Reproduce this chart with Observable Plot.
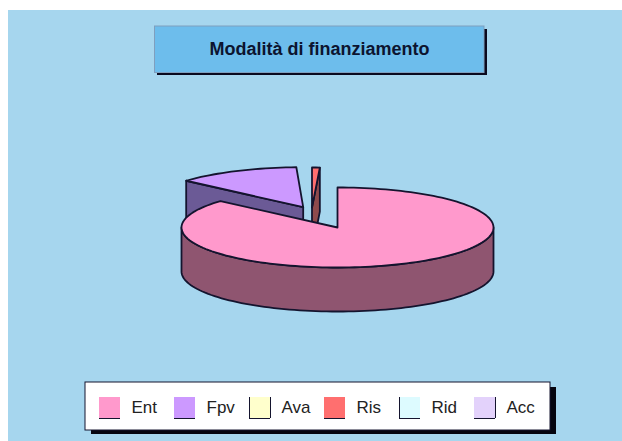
<!DOCTYPE html>
<html>
<head>
<meta charset="utf-8">
<script src="https://cdn.jsdelivr.net/npm/d3@7"></script>
<script src="https://cdn.jsdelivr.net/npm/@observablehq/plot@0.6"></script>
<style>html,body{margin:0;padding:0;background:#fff}svg{display:block}</style>
</head>
<body>
<div id="chart"></div>
<script>
const titleText = "Modalità di finanziamento";
const categories = ["Ent", "Fpv", "Ava", "Ris", "Rid", "Acc"];
const shares = [86.5, 12.8, 0, 0.8, 0, 0];
const topColors = ["#ff99cc", "#cc99ff", "#ffffcc", "#ff6f6f", "#ddfbff", "#e3d2fb"];
const wallColors = ["#8f5570", "#6b5a96", "#8f8f70", "#8f4a4c", "#708f8f", "#7a6f90"];
const explodeX = [0, -34.3, 0, -25.5, 0, 0];
const explodeY = [0, -20.3, 0, -20, 0, 0];
const angleTurn = [0, 0, 0, 2.52, 0, 0];

const cx = 337, cy = 227, rx = 156, ry = 40, depth = 44;
const ink = "#14142e";
const rad = Math.PI / 180;

const starts = shares.map((_, i) => (d3.sum(shares.slice(0, i)) * 3.6 + angleTurn[i]) % 360);
const slices = categories.map((name, i) => ({
  name, i, a0: starts[i], a1: starts[i] + shares[i] * 3.6,
  tx: cx + explodeX[i], ty: cy + explodeY[i]
})).filter(d => d.a1 > d.a0);

const rim = (s, deg, drop = 0) => ({
  x: s.tx + rx * Math.sin(deg * rad),
  y: s.ty - ry * Math.cos(deg * rad) + drop
});
const arc = (s, a, b, drop = 0) => {
  const n = Math.max(2, Math.ceil(Math.abs(b - a) / 2));
  return d3.range(n + 1).map(k => rim(s, a + (b - a) * k / n, drop));
};
const poly = (pts, fill, sw = 1.8) => Plot.line([...pts, pts[0]], {
  x: "x", y: "y", fill, stroke: ink, strokeWidth: sw, strokeLinejoin: "round"
});
const tip = (s, drop = 0) => ({x: s.tx, y: s.ty + drop});

function sliceMarks(s) {
  const marks = [];
  const wall = wallColors[s.i], top = topColors[s.i];
  const f0 = Math.max(s.a0, 90), f1 = Math.min(s.a1, 270);
  if (f1 > f0) marks.push(poly([...arc(s, f0, f1), ...arc(s, f1, f0, depth)], wall));
  if (s.a0 > 180) marks.push(poly([tip(s), rim(s, s.a0), rim(s, s.a0, depth), tip(s, depth)], wall));
  if (s.a1 < 180) marks.push(poly([tip(s), rim(s, s.a1), rim(s, s.a1, depth), tip(s, depth)], wall));
  marks.push(poly([tip(s), ...arc(s, s.a0, s.a1)], top));
  return marks;
}
const paintOrder = [3, 1, 0];
const pieMarks = paintOrder.flatMap(i => sliceMarks(slices.find(s => s.i === i)));

const box = (x1, x2, y1, y2, fill, stroke = "none") =>
  Plot.rect([{x1, x2, y1, y2}], {x1: "x1", x2: "x2", y1: "y1", y2: "y2", fill, stroke, strokeWidth: 1});

const legendX = categories.map((_, i) => 99 + 75 * i);
const swatch = 21;
const legendRows = categories.map((name, i) => ({
  name, x1: legendX[i], x2: legendX[i] + swatch, y1: 397, y2: 397 + swatch, fill: topColors[i]
}));

const chart = Plot.plot({
  width: 622, height: 441,
  margin: 0,
  style: {background: "#fff"},
  x: {domain: [0, 622], axis: null},
  y: {domain: [441, 0], axis: null},
  marks: [
    box(8, 622, 10, 441, "#a6d6ee"),
    box(157, 487, 29, 75, "#0a0a1e"),
    box(154.5, 484, 26, 72.5, "#6dbdec", "#7f9fbe"),
    Plot.text([titleText], {
      x: () => 319, y: () => 49, text: d => d,
      fontFamily: "Liberation Sans, Arial, sans-serif", fontWeight: "bold", fontSize: 18, fill: "#0c1430"
    }),
    ...pieMarks,
    box(91, 556, 387, 434, "#05050f"),
    box(85, 550, 382, 430, "#fff", "#14142e"),
    Plot.rect(legendRows, {x1: "x1", x2: "x2", y1: "y1", y2: "y2", fill: "fill"}),
    Plot.ruleY(legendRows, {x1: "x1", x2: "x2", y: "y2", stroke: ink, strokeWidth: 1}),
    Plot.ruleX(legendRows.filter(d => ["Ava", "Rid"].includes(d.name)), {x: "x1", y1: "y1", y2: "y2", stroke: ink, strokeWidth: 1}),
    Plot.ruleX(legendRows.filter(d => ["Ava", "Acc"].includes(d.name)), {x: "x2", y1: "y1", y2: "y2", stroke: ink, strokeWidth: 1}),
    Plot.text(legendRows, {
      x: d => d.x2 + 11, y: 407, text: "name", textAnchor: "start",
      fontFamily: "Liberation Sans, Arial, sans-serif", fontSize: 17, fill: "#222"
    })
  ]
});
document.getElementById("chart").append(chart);
</script>
</body>
</html>
